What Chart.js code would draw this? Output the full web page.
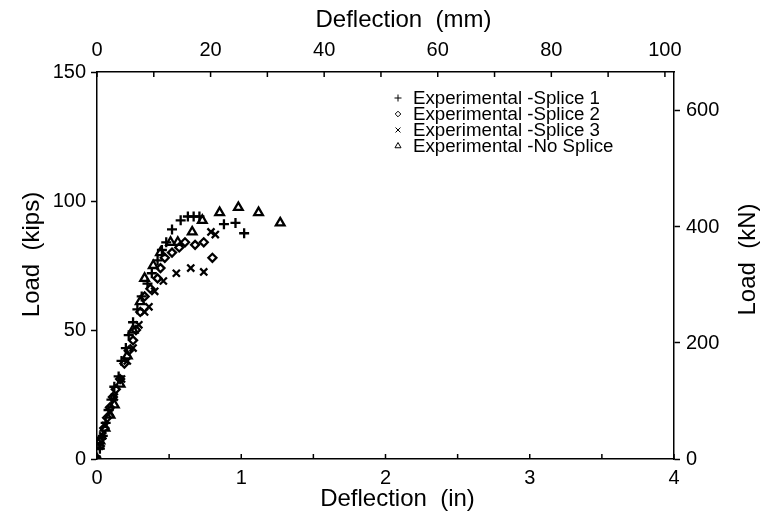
<!DOCTYPE html>
<html>
<head>
<meta charset="utf-8">
<script src="https://cdn.jsdelivr.net/npm/chart.js@4/dist/chart.umd.min.js"></script>
<style>
  html, body { margin: 0; padding: 0; background: #fff; }
  #wrap { width: 761px; height: 517px; position: relative; }
</style>
</head>
<body>
<div id="wrap"><canvas id="c"></canvas></div>
<script>
// values (deflection in inches, load in kips)
const splice1X = [0, 0.02, 0.04, 0.06, 0.08, 0.10, 0.12, 0.15, 0.17, 0.20, 0.22, 0.25, 0.28, 0.31, 0.35, 0.38, 0.42, 0.45, 0.48, 0.52, 0.58, 0.63, 0.67, 0.71, 0.88, 0.96, 1.02];
const splice1Y = [0, 4, 9, 14, 19, 23, 28, 32, 38, 43, 48, 53, 58, 63, 68, 72, 77, 81, 84, 89, 92.5, 94, 94, 94, 91, 91.5, 87.5];

const splice2X = [0, 0.02, 0.03, 0.05, 0.07, 0.09, 0.11, 0.13, 0.16, 0.19, 0.22, 0.25, 0.27, 0.30, 0.33, 0.37, 0.42, 0.44, 0.47, 0.52, 0.57, 0.61, 0.68, 0.74, 0.80];
const splice2Y = [0, 5, 8, 12, 16, 20, 24, 27, 31, 37, 42, 46, 50, 57, 63, 66, 70, 74, 78, 80, 82, 84, 83, 84, 78];

const splice3X = [0, 0.02, 0.04, 0.06, 0.09, 0.12, 0.17, 0.21, 0.25, 0.29, 0.33, 0.36, 0.40, 0.46, 0.55, 0.65, 0.74, 0.79, 0.82];
const splice3Y = [0, 5, 9, 13, 18, 24, 31, 38, 43, 52, 57, 59, 65, 69, 72, 74, 72.5, 88, 87];

const noSpliceX = [0, 0.02, 0.055, 0.09, 0.12, 0.16, 0.21, 0.25, 0.30, 0.33, 0.39, 0.44, 0.51, 0.56, 0.66, 0.73, 0.85, 0.98, 1.12, 1.27];
const noSpliceY = [0, 7, 12, 17, 21, 29, 40, 50, 61, 70, 75, 80, 84, 84, 88, 92.5, 95.5, 97.5, 95.5, 91.5];

const seriesNames = ["Experimental -Splice 1", "Experimental -Splice 2", "Experimental -Splice 3", "Experimental -No Splice"];

const IN_TO_MM = 25.4;
const KIP_TO_KN = 4.448;
const FONT = "'Liberation Sans', Arial, Helvetica, sans-serif";

function pts(xs, ys) {
  return xs.map((x, i) => ({ x: x, y: ys[i] }));
}

// small inward ticks on the top and bottom axes, like the paper figure
const inwardTicks = {
  id: "inwardTicks",
  afterDraw(chart) {
    const ctx = chart.ctx;
    ctx.save();
    ctx.strokeStyle = "#000";
    ctx.lineWidth = 1.5;
    ["x", "x2"].forEach(id => {
      const s = chart.scales[id];
      const top = id === "x2";
      const y0 = top ? chart.chartArea.top : chart.chartArea.bottom;
      s.ticks.forEach(t => {
        const px = s.getPixelForValue(t.value);
        ctx.beginPath();
        ctx.moveTo(px, y0);
        ctx.lineTo(px, top ? y0 + 5 : y0 - 5);
        ctx.stroke();
      });
    });
    ctx.restore();
  }
};

// axis titles: both vertical ones read bottom-to-top and the horizontal
// ones sit a little right of centre in the figure, so they are drawn here
const axisTitles = {
  id: "axisTitles",
  afterDraw(chart) {
    const ctx = chart.ctx;
    const a = chart.chartArea;
    const midX = (a.left + a.right) / 2;
    const midY = (a.top + a.bottom) / 2;
    ctx.save();
    ctx.font = "24px " + FONT;
    ctx.fillStyle = "#000";
    ctx.textAlign = "center";
    ctx.textBaseline = "middle";
    ctx.fillText("Deflection  (mm)", midX + 18, 20);
    ctx.fillText("Deflection  (in)", midX + 12, 499);
    [["Load  (kips)", 32, midY - 11], ["Load  (kN)", 748, midY - 6]].forEach(([t, x, y]) => {
      ctx.save();
      ctx.translate(x, y);
      ctx.rotate(-Math.PI / 2);
      ctx.fillText(t, 0, 0);
      ctx.restore();
    });
    ctx.restore();
  }
};

// legend drawn inside the plot, top right
const insideLegend = {
  id: "insideLegend",
  afterDraw(chart) {
    const ctx = chart.ctx;
    const a = chart.chartArea;
    ctx.save();
    ctx.font = "18.7px " + FONT;
    ctx.textBaseline = "middle";
    chart.data.datasets.forEach((ds, i) => {
      const y = a.top + 26 + i * 16;
      const mx = a.left + 301;
      ctx.fillStyle = "rgba(0,0,0,0)";
      ctx.strokeStyle = "#000";
      Chart.helpers.drawPoint(ctx, {
        pointStyle: ds.pointStyle,
        radius: ds.pointRadius * 0.7,
        borderWidth: 2.2,
        rotation: 0
      }, mx, y);
      ctx.fillStyle = "#000";
      ctx.fillText(ds.label, a.left + 316, y + 1);
    });
    ctx.restore();
  }
};

const makeSet = (label, data, style, radius) => ({
  label: label,
  data: data,
  pointStyle: style,
  pointRadius: radius,
  pointHoverRadius: radius,
  borderColor: "#000",
  backgroundColor: "rgba(0,0,0,0)",
  borderWidth: 2.3,
  showLine: false
});

const datasets = [
  makeSet(seriesNames[0], pts(splice1X, splice1Y), "cross", 5),
  makeSet(seriesNames[1], pts(splice2X, splice2Y), "rectRot", 4),
  makeSet(seriesNames[2], pts(splice3X, splice3Y), "crossRot", 5),
  makeSet(seriesNames[3], pts(noSpliceX, noSpliceY), "triangle", 5)
];

const axisBorder = { display: true, color: "#000", width: 1.5 };
const tickFont = { family: FONT, size: 20 };

new Chart(document.getElementById("c"), {
  type: "scatter",
  data: { datasets: datasets },
  plugins: [inwardTicks, axisTitles, insideLegend],
  options: {
    responsive: true,
    maintainAspectRatio: false,
    animation: false,
    layout: { padding: 0 },
    plugins: {
      legend: { display: false },
      tooltip: { enabled: false }
    },
    scales: {
      x: {
        type: "linear",
        position: "bottom",
        min: 0,
        max: 4,
        ticks: {
          stepSize: 0.5,
          autoSkip: false,
          maxRotation: 0,
          color: "#000",
          font: tickFont,
          padding: 7,
          callback: v => (Number.isInteger(v) ? v : "")
        },
        grid: { display: true, drawOnChartArea: false, drawTicks: false },
        border: axisBorder,
        afterFit: s => { s.height = 58; }
      },
      x2: {
        type: "linear",
        position: "top",
        min: 0,
        max: 4 * IN_TO_MM,
        ticks: {
          stepSize: 10,
          includeBounds: false,
          autoSkip: false,
          maxRotation: 0,
          color: "#000",
          font: tickFont,
          padding: 10,
          callback: v => (v % 20 === 0 ? v : "")
        },
        grid: { display: true, drawOnChartArea: false, drawTicks: false },
        border: axisBorder,
        afterFit: s => { s.height = 72; }
      },
      y: {
        type: "linear",
        position: "left",
        min: 0,
        max: 150,
        ticks: { stepSize: 50, color: "#000", font: tickFont, padding: 5 },
        grid: { display: true, drawOnChartArea: false, drawTicks: true, tickLength: 6, color: "#000", tickWidth: 1.5 },
        border: axisBorder,
        afterFit: s => { s.width = 97; }
      },
      y2: {
        type: "linear",
        position: "right",
        min: 0,
        max: 150 * KIP_TO_KN,
        ticks: { stepSize: 200, includeBounds: false, color: "#000", font: tickFont, padding: 6 },
        grid: { display: true, drawOnChartArea: false, drawTicks: true, tickLength: 6, color: "#000", tickWidth: 1.5 },
        border: axisBorder,
        afterFit: s => { s.width = 87; }
      }
    }
  }
});
</script>
</body>
</html>
